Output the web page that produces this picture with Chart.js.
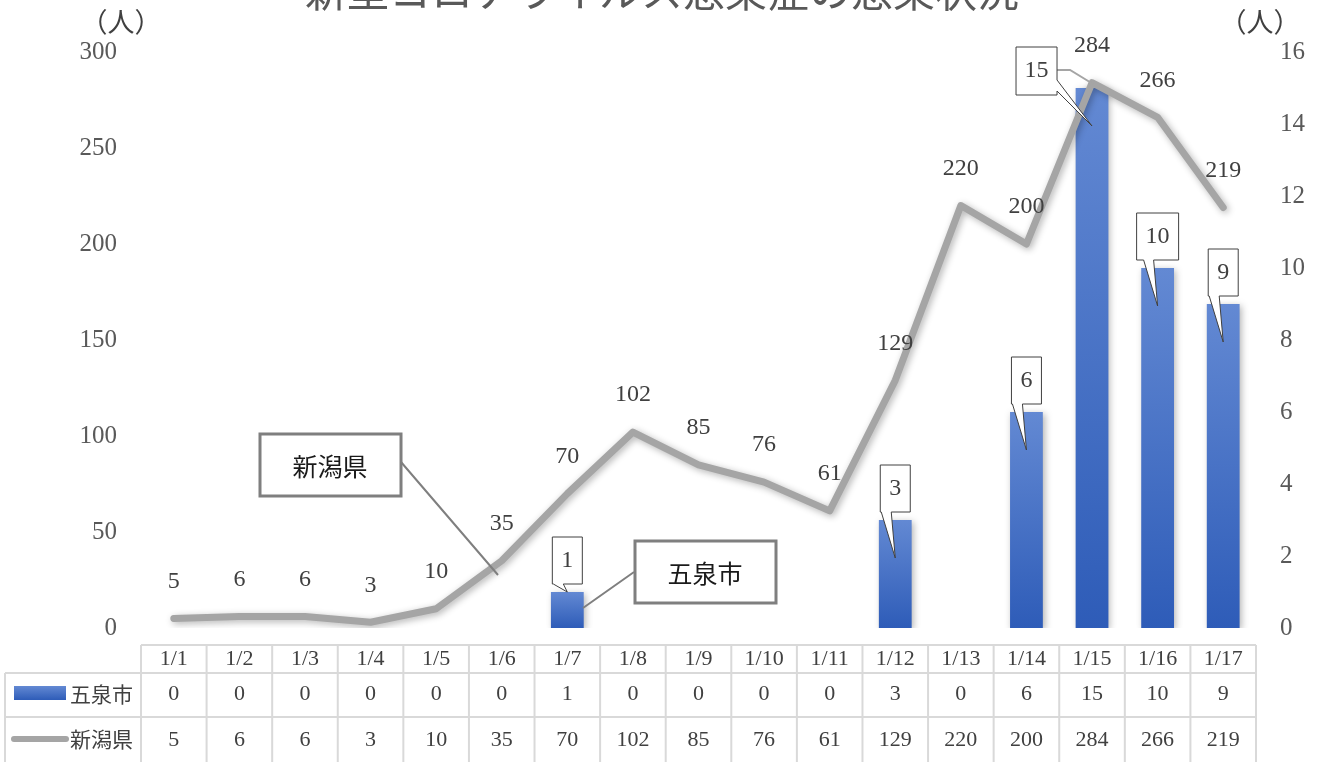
<!DOCTYPE html>
<html>
<head>
<meta charset="utf-8">
<script src="https://cdn.jsdelivr.net/npm/chart.js@4"></script>
<style>
  html, body { margin: 0; padding: 0; background: #fff; }
  #wrap { width: 1317px; height: 762px; }
</style>
</head>
<body>
<div id="wrap"><canvas id="chart" width="1317" height="762"></canvas></div>
<script>
// データ
const days = ['1/1', '1/2', '1/3', '1/4', '1/5', '1/6', '1/7', '1/8', '1/9', '1/10', '1/11', '1/12', '1/13', '1/14', '1/15', '1/16', '1/17'];
const gosenCases = [0, 0, 0, 0, 0, 0, 1, 0, 0, 0, 0, 3, 0, 6, 15, 10, 9];
const niigataCases = [5, 6, 6, 3, 10, 35, 70, 102, 85, 76, 61, 129, 220, 200, 284, 266, 219];
const leftTicks = [0, 50, 100, 150, 200, 250, 300];
const rightTicks = [0, 2, 4, 6, 8, 10, 12, 14, 16];
const titleText = '新型コロナウイルス感染症の感染状況';
const unitText = '（人）';
const gosenName = '五泉市';
const niigataName = '新潟県';

const SERIF = '"Liberation Serif", "Noto Sans CJK JP", serif';
const JP = '"Noto Sans CJK JP", sans-serif';
const TEXT = '#404040';
const TABLE_LINE = '#d9d9d9';
const LINE_GRAY = '#a5a5a5';

function barGradient(ctx, top, bottom) {
    const g = ctx.createLinearGradient(0, top, 0, bottom);
    g.addColorStop(0, '#6389d3');
    g.addColorStop(1, '#2e5cb8');
    return g;
}

// 影
const shadowPlugin = {
    id: 'shadow',
    beforeDatasetDraw(chart) {
        const ctx = chart.ctx;
        ctx.save();
        ctx.shadowColor = 'rgba(0,0,0,0.3)';
        ctx.shadowBlur = 7;
        ctx.shadowOffsetX = 2;
        ctx.shadowOffsetY = 2;
    },
    afterDatasetDraw(chart) {
        chart.ctx.restore();
    }
};

// 吹き出し
function drawCallout(ctx, text, box, wedge) {
    const { L, T, R, B } = box;
    ctx.save();
    ctx.beginPath();
    ctx.moveTo(L, T);
    ctx.lineTo(R, T);
    if (wedge.side === 'right') {
        ctx.lineTo(R, wedge.a);
        ctx.lineTo(wedge.tx, wedge.ty);
        ctx.lineTo(R, wedge.b);
        ctx.lineTo(R, B);
        ctx.lineTo(L, B);
    } else {
        ctx.lineTo(R, B);
        ctx.lineTo(wedge.b, B);
        ctx.lineTo(wedge.tx, wedge.ty);
        ctx.lineTo(wedge.a, B);
        ctx.lineTo(L, B);
    }
    ctx.closePath();
    ctx.fillStyle = '#fff';
    ctx.fill();
    ctx.strokeStyle = '#404040';
    ctx.lineWidth = 1;
    ctx.stroke();
    ctx.fillStyle = TEXT;
    ctx.font = '24px ' + SERIF;
    ctx.textAlign = 'center';
    ctx.textBaseline = 'middle';
    ctx.fillText(text, (L + R) / 2, T + 24);
    ctx.restore();
}

const labelPlugin = {
    id: 'labels',
    afterDatasetsDraw(chart) {
        const ctx = chart.ctx;
        // 新潟県の値
        const lineMeta = chart.getDatasetMeta(1);
        ctx.save();
        ctx.fillStyle = TEXT;
        ctx.font = '24px ' + SERIF;
        ctx.textAlign = 'center';
        ctx.textBaseline = 'middle';
        lineMeta.data.forEach((pt, i) => {
            ctx.fillText(String(niigataCases[i]), pt.x, pt.y - 37);
        });
        ctx.restore();

        // 五泉市の値（吹き出し）
        const barMeta = chart.getDatasetMeta(0);
        barMeta.data.forEach((bar, i) => {
            const v = gosenCases[i];
            if (!v) return;
            const txt = String(v);
            const w = txt.length > 1 ? 42 : 30;
            const h = 47;
            const cx = bar.x;
            const top = bar.y;
            const height = bar.base - bar.y;
            const tipY = height > 60 ? top + 38 : top;
            if (i === 14) {
                // 1/15 は左にずらす
                const box = { L: cx - 76, T: 47, R: cx - 35, B: 95 };
                ctx.save();
                ctx.strokeStyle = '#a5a5a5';
                ctx.lineWidth = 2;
                ctx.beginPath();
                ctx.moveTo(box.R, 70);
                ctx.lineTo(box.R + 13, 70);
                ctx.lineTo(cx + 1, 84);
                ctx.stroke();
                ctx.restore();
                drawCallout(ctx, txt, box, { side: 'right', a: 80, b: 91, tx: cx, ty: tipY });
            } else {
                const B = top - 8;
                const box = { L: cx - w / 2, T: B - h, R: cx + w / 2, B: B };
                drawCallout(ctx, txt, box, { side: 'bottom', a: cx - 14, b: cx - 4, tx: cx, ty: tipY });
            }
        });
    },
    afterDraw(chart) {
        const ctx = chart.ctx;
        const area = chart.chartArea;
        const xs = chart.scales.x;

        // タイトル（上部が切れている）
        ctx.save();
        ctx.fillStyle = '#595959';
        ctx.font = '42px ' + JP;
        ctx.textAlign = 'center';
        ctx.textBaseline = 'middle';
        ctx.fillText(titleText, 662, -9);

        // 単位
        ctx.font = '27px ' + JP;
        ctx.fillStyle = '#404040';
        ctx.fillText(unitText, 121, 22);
        ctx.fillText(unitText, 1260, 22);
        ctx.restore();

        // 系列名の吹き出し
        ctx.save();
        ctx.strokeStyle = '#7f7f7f';
        ctx.lineWidth = 2;
        ctx.beginPath();
        ctx.moveTo(401, 462);
        ctx.lineTo(498, 575);
        ctx.moveTo(634, 572);
        ctx.lineTo(583, 608);
        ctx.stroke();
        ctx.lineWidth = 3;
        ctx.fillStyle = '#fff';
        [[260, 434, 141, 62], [635, 541, 141, 62]].forEach(([x, y, w, h]) => {
            ctx.fillRect(x, y, w, h);
            ctx.strokeRect(x, y, w, h);
        });
        ctx.fillStyle = '#1a1a1a';
        ctx.font = '25px ' + JP;
        ctx.textAlign = 'center';
        ctx.textBaseline = 'middle';
        ctx.fillText(niigataName, 330, 466);
        ctx.fillText(gosenName, 705, 573);
        ctx.restore();

        // データテーブル
        const colW = (area.right - area.left) / days.length;
        const rowY = [645, 673, 717, 762];
        ctx.save();
        ctx.strokeStyle = TABLE_LINE;
        ctx.lineWidth = 2;
        ctx.beginPath();
        ctx.moveTo(area.left, rowY[0]);
        ctx.lineTo(area.right, rowY[0]);
        ctx.moveTo(5, rowY[1]);
        ctx.lineTo(area.right, rowY[1]);
        ctx.moveTo(5, rowY[2]);
        ctx.lineTo(area.right, rowY[2]);
        ctx.moveTo(5, rowY[1]);
        ctx.lineTo(5, rowY[3]);
        for (let i = 0; i <= days.length; i++) {
            const x = area.left + colW * i;
            ctx.moveTo(x, rowY[0]);
            ctx.lineTo(x, rowY[3]);
        }
        ctx.stroke();

        ctx.fillStyle = TEXT;
        ctx.font = '22px ' + SERIF;
        ctx.textAlign = 'center';
        ctx.textBaseline = 'middle';
        days.forEach((d, i) => {
            const x = xs.getPixelForValue(i);
            ctx.fillText(d, x, 659);
            ctx.fillText(String(gosenCases[i]), x, 694);
            ctx.fillText(String(niigataCases[i]), x, 740);
        });

        // 凡例
        ctx.fillStyle = barGradient(ctx, 686, 700);
        ctx.fillRect(14, 686, 52, 14);
        ctx.strokeStyle = LINE_GRAY;
        ctx.lineWidth = 6;
        ctx.lineCap = 'round';
        ctx.beginPath();
        ctx.moveTo(14, 739);
        ctx.lineTo(66, 739);
        ctx.stroke();
        ctx.fillStyle = TEXT;
        ctx.font = '21px ' + JP;
        ctx.textAlign = 'left';
        ctx.fillText(gosenName, 70, 694);
        ctx.fillText(niigataName, 70, 739);
        ctx.restore();
    }
};

const ctxChart = document.getElementById('chart').getContext('2d');

const chart = new Chart(ctxChart, {
    type: 'bar',
    data: {
        labels: days,
        datasets: [{
            type: 'bar',
            label: gosenName,
            data: gosenCases,
            yAxisID: 'y2',
            order: 2,
            categoryPercentage: 1,
            barPercentage: 0.5,
            backgroundColor: (c) => {
                const chart = c.chart;
                if (!chart.chartArea || c.dataIndex === undefined) return '#4472c4';
                const y2 = chart.scales.y2;
                const top = y2.getPixelForValue(gosenCases[c.dataIndex]);
                const bottom = y2.getPixelForValue(0);
                if (bottom - top < 1) return '#4472c4';
                return barGradient(chart.ctx, top, bottom);
            }
        }, {
            type: 'line',
            label: niigataName,
            data: niigataCases,
            yAxisID: 'y',
            order: 1,
            borderColor: LINE_GRAY,
            borderWidth: 7,
            borderJoinStyle: 'round',
            borderCapStyle: 'round',
            pointRadius: 0,
            tension: 0,
            fill: false
        }]
    },
    options: {
        responsive: false,
        devicePixelRatio: 1,
        animation: false,
        layout: { padding: { top: 52, bottom: 134, left: 0, right: 0 } },
        plugins: {
            legend: { display: false },
            tooltip: { enabled: false },
            title: { display: false }
        },
        scales: {
            x: { display: false, offset: true },
            y: {
                position: 'left',
                min: 0,
                max: 300,
                afterBuildTicks: (s) => { s.ticks = leftTicks.map(v => ({ value: v })); },
                ticks: { color: '#595959', font: { family: SERIF, size: 25 }, padding: 16 },
                grid: { display: false },
                border: { display: false },
                afterFit: (s) => { s.width = 141; }
            },
            y2: {
                position: 'right',
                min: 0,
                max: 16,
                afterBuildTicks: (s) => { s.ticks = rightTicks.map(v => ({ value: v })); },
                ticks: { color: '#595959', font: { family: SERIF, size: 25 }, padding: 16 },
                grid: { display: false },
                border: { display: false },
                afterFit: (s) => { s.width = 61; }
            }
        }
    },
    plugins: [shadowPlugin, labelPlugin]
});
</script>
</body>
</html>
